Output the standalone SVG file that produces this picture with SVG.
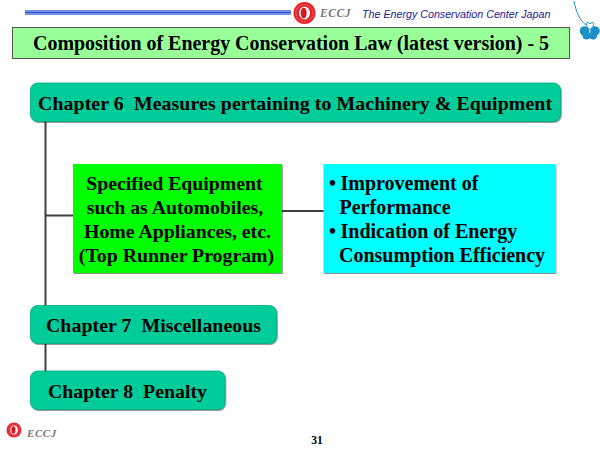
<svg xmlns="http://www.w3.org/2000/svg" width="600" height="450" viewBox="0 0 600 450">
<style>
text{font-family:"Liberation Serif","Times New Roman",serif;font-weight:bold;fill:#000;white-space:pre}
.c{font-size:19.800px;text-anchor:middle}
.b{font-size:20px}
.t{fill:#00cc99;stroke:#00a87e;stroke-width:.8}
.ln{stroke:#404040;stroke-width:2;fill:none}
.logo{font-style:italic;fill:#777;font-size:11px;letter-spacing:.6px}
</style>
<defs>
<filter id="s" x="-5%" y="-5%" width="110%" height="115%"><feDropShadow dx="0.8" dy="1" stdDeviation="0.6" flood-color="#000" flood-opacity="0.45"/></filter>
<g id="mark"><circle r="11" fill="#e8202a"/><circle r="8.500" fill="none" stroke="#ff8a8a" stroke-width="1" stroke-dasharray="1.500 1.500"/><ellipse rx="5.500" ry="6.500" fill="#fff"/><ellipse rx="3" ry="5.500" cx="-.8" fill="#d81820"/></g>
</defs>
<rect width="600" height="450" fill="#fff"/>
<g id="header">
<rect x="25" y="10" width="266" height="5" fill="#6f8fe8"/>
<line x1="25" y1="12.500" x2="291" y2="12.500" stroke="#2f50c8" stroke-width="1"/>
<use href="#mark" x="304.500" y="13"/>
<text x="320" y="17" class="logo" style="font-size:11.500px">ECCJ</text>
<text x="362" y="18" style="font-family:'Liberation Sans',Arial,sans-serif;font-weight:normal;font-style:italic;font-size:10.700px;fill:#1a1a90">The Energy Conservation Center Japan</text>
<path d="M574 1C576 12 580 21 586 25" fill="none" stroke="#1e90c8" stroke-width="1"/>
<g fill="#1e90c8"><circle cx="584.500" cy="31" r="4.800"/><circle cx="595" cy="31" r="4.800"/><circle cx="586.500" cy="35.500" r="4"/><circle cx="593" cy="35.500" r="4"/><path d="M590 29.500C585 26 586 22 588 22.500Q589.500 22.800 590 24Q590.500 22.800 592 22.500C594 22 595 26 590 29.500Z" fill="#fff" stroke="#1e90c8" stroke-width="1"/></g>
</g>
<g id="title">
<rect x="12.500" y="27.500" width="557" height="31" fill="#99ff99" stroke="#555" stroke-width="1"/>
<text x="291" y="50" text-anchor="middle" textLength="516" style="font-size:20px">Composition of Energy Conservation Law (latest version) - 5</text>
</g>
<g id="connectors">
<path class="ln" d="M45.500 120V372M46 215.500H74M282 211H324"/>
</g>
<g id="chapter6">
<rect class="t" x="30.500" y="83" width="530" height="38.500" rx="7" filter="url(#s)"/>
<text class="c" x="295" y="109.500" textLength="514">Chapter 6  Measures pertaining to Machinery &amp; Equipment</text>
</g>
<g id="specified">
<rect x="73" y="164" width="209" height="109" fill="#00ff00" filter="url(#s)"/>
<text class="c" x="174.500" y="190">Specified Equipment</text>
<text class="c" x="175" y="214">such as Automobiles,</text>
<text class="c" x="177.500" y="238">Home Appliances, etc.</text>
<text class="c" x="176.500" y="262">(Top Runner Program)</text>
</g>
<g id="measures">
<rect x="323.500" y="164" width="232" height="109" fill="#00ffff" filter="url(#s)"/>
<text class="b" x="329" y="190">•</text><text class="b" x="340.500" y="190">Improvement of</text>
<text class="b" x="339.500" y="214">Performance</text>
<text class="b" x="329" y="238">•</text><text class="b" x="340.500" y="238">Indication of Energy</text>
<text class="b" x="339" y="262">Consumption Efficiency</text>
</g>
<g id="chapter7">
<rect class="t" x="30.500" y="305.500" width="246" height="38" rx="7" filter="url(#s)"/>
<text class="c" x="153.500" y="331.500" textLength="215">Chapter 7  Miscellaneous</text>
</g>
<g id="chapter8">
<rect class="t" x="30.500" y="371" width="194.500" height="38.500" rx="7" filter="url(#s)"/>
<text class="c" x="127.500" y="397.500" textLength="159">Chapter 8  Penalty</text>
</g>
<g id="footer">
<use href="#mark" transform="translate(14 430) scale(.68)"/>
<text x="27" y="437" class="logo">ECCJ</text>
<text x="317" y="444" text-anchor="middle" style="font-size:11.500px">31</text>
</g>
</svg>
